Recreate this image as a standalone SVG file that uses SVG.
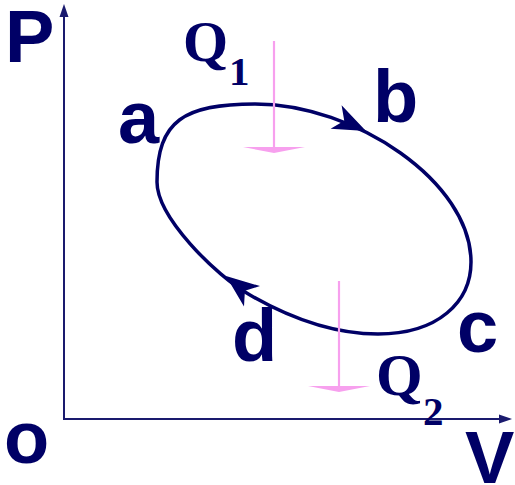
<svg xmlns="http://www.w3.org/2000/svg" width="515" height="485" viewBox="0 0 515 485">
<defs>
<style>
.lbl{font-family:"Liberation Sans",Arial,sans-serif;font-weight:bold;font-size:74px;fill:#000066}
.q{font-family:"Liberation Serif","Times New Roman",serif;font-weight:bold;fill:#000066}
.axis{stroke:#1a1a6e;stroke-width:2;fill:none}
.cyc{stroke:#000066;stroke-width:3.5;fill:none}
.heat{stroke:#f7a0ee;stroke-width:2.2;fill:none}
</style>
<path id="barb" d="M0,0 L-33,-13 L-24,0 L-33,13 Z" fill="#000066"/>
</defs>
<g id="connectors">
<g id="axes">
<path class="axis" d="M64,16 L64,419 L500,419"/>
<path d="M64,4 L59.5,17 L68.5,17 Z" fill="#1a1a6e"/>
<path d="M512,419 L499,414.5 L499,423.5 Z" fill="#1a1a6e"/>
</g>
<g id="cycle">
<path class="cyc" d="M157,182 C157,120 185,104 255,104 C355,104 471,182 471,262 C471,302 438,334 378,334 C333,334 289,317.5 250,295 C215,275 157,217 157,182 Z"/>
<use href="#barb" transform="translate(366,131) rotate(25)"/>
<use href="#barb" transform="translate(226,276) rotate(218)"/>
</g>
<g id="Q1-arrow">
<path class="heat" d="M274,41 L274,149"/>
<path d="M243,147 L305,147 L274,153 Z" fill="#f7a0ee"/>
</g>
<g id="Q2-arrow">
<path class="heat" d="M339,281 L339,388"/>
<path d="M308,386 L370,386 L339,392 Z" fill="#f7a0ee"/>
</g>
</g>
<g id="node-P"><text class="lbl" x="5" y="62">P</text></g>
<g id="node-a"><text class="lbl" x="118" y="143">a</text></g>
<g id="node-b"><text class="lbl" x="373" y="122">b</text></g>
<g id="node-c"><text class="lbl" x="457" y="352">c</text></g>
<g id="node-d"><text class="lbl" x="232" y="361">d</text></g>
<g id="node-o"><text class="lbl" x="4" y="463">o</text></g>
<g id="node-V"><text class="lbl" x="465" y="483">V</text></g>
<g id="node-Q1"><text class="q" x="183" y="61" font-size="58">Q<tspan font-size="41" x="229" y="85">1</tspan></text></g>
<g id="node-Q2"><text class="q" x="376" y="395" font-size="60">Q<tspan font-size="41" x="423" y="425">2</tspan></text></g>
</svg>
